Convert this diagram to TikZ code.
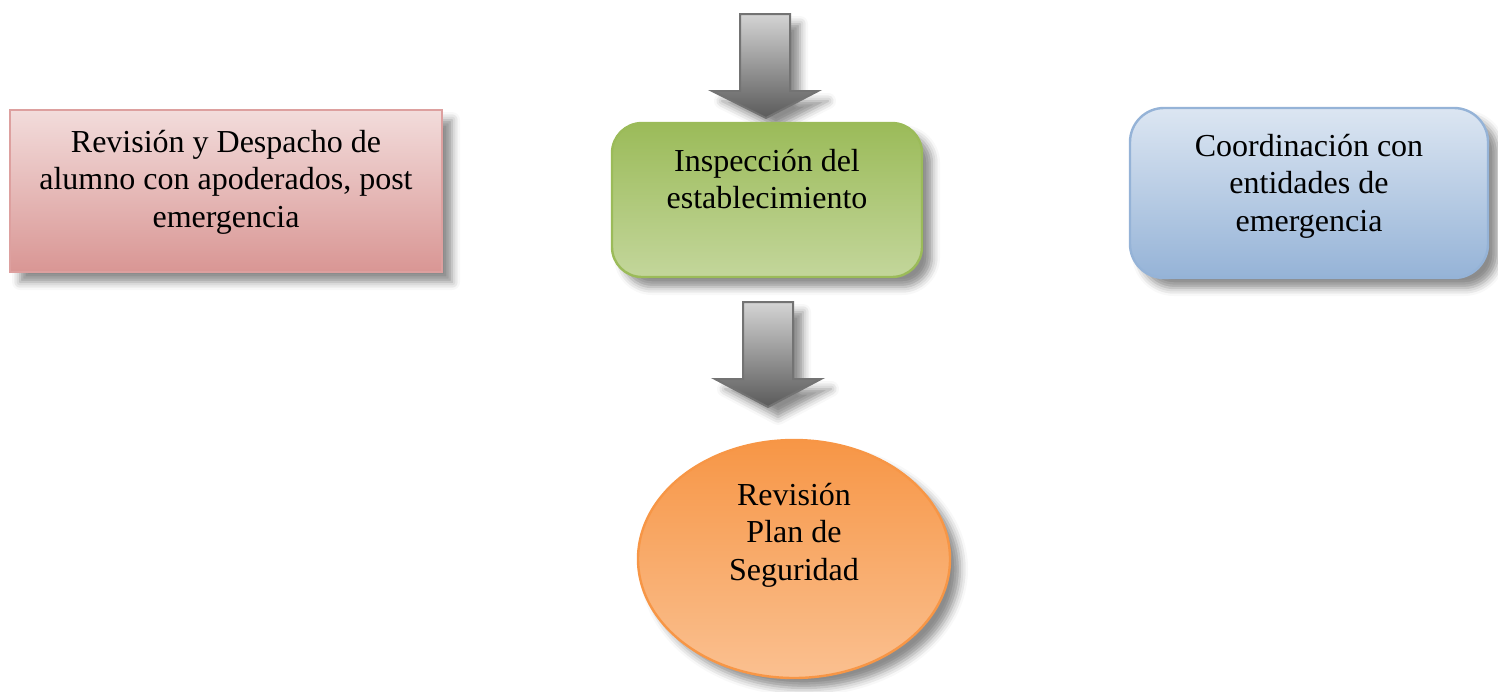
\documentclass[tikz,border=0pt]{standalone}
\usepackage{fontspec}
\setmainfont{Liberation Serif}
\usetikzlibrary{shapes.geometric,shadows.blur}
\definecolor{redtop}{HTML}{F2DCDB}
\definecolor{redbot}{HTML}{D99694}
\definecolor{greentop}{HTML}{9BBB59}
\definecolor{greenbot}{HTML}{C3D69B}
\definecolor{bluetop}{HTML}{DCE6F2}
\definecolor{bluebot}{HTML}{95B3D7}
\definecolor{orangetop}{HTML}{F79646}
\definecolor{orangebot}{HTML}{FAC090}
\definecolor{graytop}{HTML}{D4D4D4}
\definecolor{graybot}{HTML}{5A5A5A}
\begin{document}
\begin{tikzpicture}[x=0.5pt, y=-0.5pt,
	sombra/.style = {blur shadow={shadow xshift=5pt, shadow yshift=-5pt, shadow blur radius=4pt, shadow opacity=45}},
	txt/.style = {font=\fontsize{16}{18.8}\selectfont, align=center, text=black},
	box/.style = {sombra, line width=1.2pt, inner sep=0pt},
	blockarrow/.style = {sombra, draw=gray!90!black, line width=1pt, top color=graytop, bottom color=graybot}]
		\useasboundingbox (0,0) rectangle (1498,691);
		% flechas grises
		\path[blockarrow] (740,14) -- (790,14) -- (790,91) -- (818,91) -- (766,118) -- (712,91) -- (740,91) -- cycle;
		\path[blockarrow] (743,302) -- (793,302) -- (793,379) -- (821,379) -- (768,407) -- (715,379) -- (743,379) -- cycle;
		\node[box, draw=redbot!90, top color=redtop, bottom color=redbot, minimum width=216pt, minimum height=81pt,
			label={[txt, yshift=4.5pt]center:Revisión y Despacho de\\alumno con apoderados, post\\emergencia}] (despacho) at (226,191) {};
		\node[box, draw=greentop, top color=greentop, bottom color=greenbot, rounded corners=15pt, minimum width=155pt, minimum height=77pt,
			label={[txt, yshift=10.5pt]center:Inspección del\\establecimiento}] (inspeccion) at (767,200) {};
		\node[box, draw=bluebot, top color=bluetop, bottom color=bluebot, rounded corners=17pt, minimum width=179pt, minimum height=85pt,
			label={[txt, yshift=3.5pt]center:Coordinación con\\entidades de\\emergencia}] (coordinacion) at (1309,193) {};
		\node[box, ellipse, draw=orangetop, top color=orangetop, bottom color=orangebot, minimum width=156pt, minimum height=119pt,
			label={[txt, yshift=12pt]center:Revisión\\Plan de\\Seguridad}] (plan) at (794,559) {};

	\end{tikzpicture}
\end{document}
